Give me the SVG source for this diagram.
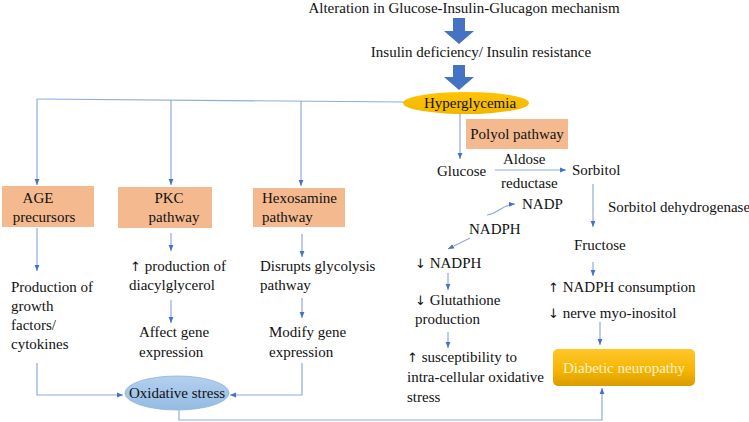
<svg xmlns="http://www.w3.org/2000/svg" width="749" height="422" viewBox="0 0 749 422" font-family="Liberation Serif, Times New Roman, serif">
<defs>
<marker id="ah" viewBox="0 0 10 10" refX="10" refY="5" markerWidth="6" markerHeight="6" markerUnits="userSpaceOnUse" orient="auto">
<path d="M0,1 L10,5 L0,9 z" fill="#4472C4"/>
</marker>
<linearGradient id="gold" x1="0" y1="0" x2="0" y2="1">
<stop offset="0" stop-color="#FFC72C"/>
<stop offset="0.6" stop-color="#F5B400"/>
<stop offset="1" stop-color="#D89C00"/>
</linearGradient>
<linearGradient id="hyp" x1="0" y1="0" x2="0" y2="1">
<stop offset="0" stop-color="#FFC400"/>
<stop offset="1" stop-color="#F2B600"/>
</linearGradient>
<linearGradient id="blue" x1="0" y1="0" x2="0" y2="1">
<stop offset="0" stop-color="#B4D0EE"/>
<stop offset="1" stop-color="#94BBE3"/>
</linearGradient>
<style>
text{font-size:15px;fill:#111}
.c{text-anchor:middle}
.box{fill:#F5B98F}
.ln{fill:none;stroke:#8FAADC;stroke-width:1.2}
.ar{marker-end:url(#ah)}
.blk{fill:#4472C4}
.sy{font-family:"DejaVu Sans",sans-serif;font-size:13px;fill:#111}
</style>
</defs>

<g id="title"><text class="c" x="464" y="13">Alteration in Glucose-Insulin-Glucagon mechanism</text></g>
<g id="blockarrow1"><path class="blk" d="M453,18 H465 V31 H474 L459,44 L444,31 H453 Z"/></g>
<g id="insulin"><text class="c" x="481" y="57">Insulin deficiency/ Insulin resistance</text></g>
<g id="blockarrow2"><path class="blk" d="M453,65 H465 V77 H474 L459,90 L444,77 H453 Z"/></g>

<g id="connectors">
<path class="ln" d="M404,102 L37,99"/>
<path class="ln ar" d="M37,99 V185"/>
<path class="ln ar" d="M171,100 V185"/>
<path class="ln ar" d="M301,101 V186"/>
<path class="ln ar" d="M460,114 V159"/>
<path class="ln ar" d="M37,228 V271"/>
<path class="ln ar" d="M171,233 V251"/>
<path class="ln ar" d="M302,234 V257"/>
<path class="ln ar" d="M171,300 V323"/>
<path class="ln ar" d="M302,298 V318"/>
<path class="ln ar" d="M37,363 V395 H123"/>
<path class="ln ar" d="M302,363 V395 H230"/>
<path class="ln ar" d="M179,410 V420 H602 V388"/>
<path class="ln ar" d="M495,170 H566"/>
<path class="ln ar" d="M593,184 V227"/>
<path class="ln ar" d="M593,262 V276"/>
<path class="ln ar" d="M487,215 C500,213 500,205 515,204"/>
<path class="ln ar" d="M470,238 L448,249"/>
<path class="ln ar" d="M448,273 V290"/>
<path class="ln ar" d="M448,332 V348"/>
<path class="ln ar" d="M600,322 V345"/>
</g>

<g id="hyperglycemia">
<ellipse cx="466" cy="103" rx="63" ry="11" fill="url(#hyp)"/>
<text class="c" x="470" y="108">Hyperglycemia</text>
</g>

<g id="polyol">
<rect class="box" x="466" y="119" width="102" height="30"/>
<text class="c" x="517" y="139">Polyol pathway</text>
</g>

<g id="age">
<rect class="box" x="2" y="186" width="92" height="41"/>
<text class="c" x="38" y="203">AGE</text>
<text class="c" x="44" y="222">precursors</text>
</g>

<g id="pkc">
<rect class="box" x="118" y="187" width="94" height="41"/>
<text class="c" x="169" y="203">PKC</text>
<text class="c" x="174" y="222">pathway</text>
</g>

<g id="hexosamine">
<rect class="box" x="253" y="188" width="92" height="39"/>
<text x="262" y="203">Hexosamine</text>
<text x="262" y="222">pathway</text>
</g>

<g id="age-text">
<text x="11" y="292">Production of</text>
<text x="11" y="311">growth</text>
<text x="11" y="330">factors/</text>
<text x="11" y="349">cytokines</text>
</g>

<g id="pkc-text1">
<text x="130" y="271"><tspan class="sy">↑</tspan> production of</text>
<text x="129" y="290">diacylglycerol</text>
</g>
<g id="pkc-text2">
<text x="139" y="337">Affect gene</text>
<text x="139" y="357">expression</text>
</g>

<g id="hex-text1">
<text x="260" y="271">Disrupts glycolysis</text>
<text x="260" y="290">pathway</text>
</g>
<g id="hex-text2">
<text x="269" y="337">Modify gene</text>
<text x="269" y="357">expression</text>
</g>

<g id="oxidative">
<ellipse cx="177" cy="393" rx="52" ry="17" fill="url(#blue)" stroke="#8FB2DC" stroke-width="0.8"/>
<text class="c" x="177" y="398">Oxidative stress</text>
</g>

<g id="glucose"><text x="437" y="176">Glucose</text></g>
<g id="aldose">
<text x="503" y="164">Aldose</text>
<text x="501" y="188">reductase</text>
</g>
<g id="sorbitol"><text x="572" y="175">Sorbitol</text></g>
<g id="sdh"><text x="608" y="212">Sorbitol dehydrogenase</text></g>
<g id="nadp"><text x="522" y="209">NADP</text></g>
<g id="nadph"><text x="469" y="234">NADPH</text></g>
<g id="fructose"><text x="574" y="250">Fructose</text></g>
<g id="dnadph"><text x="415" y="268"><tspan class="sy">↓</tspan> NADPH</text></g>
<g id="glutathione">
<text x="415" y="305"><tspan class="sy">↓</tspan> Glutathione</text>
<text x="415" y="324">production</text>
</g>
<g id="susceptibility">
<text x="407" y="362"><tspan class="sy">↑</tspan> susceptibility to</text>
<text x="407" y="382">intra-cellular oxidative</text>
<text x="407" y="402">stress</text>
</g>
<g id="consumption">
<text x="548" y="292"><tspan class="sy">↑</tspan> NADPH consumption</text>
<text x="548" y="318"><tspan class="sy">↓</tspan> nerve myo-inositol</text>
</g>

<g id="neuropathy">
<rect x="553" y="349" width="142" height="37" rx="5" fill="url(#gold)"/>
<text class="c" x="624" y="373" style="fill:#FFF4D0">Diabetic neuropathy</text>
</g>
</svg>
